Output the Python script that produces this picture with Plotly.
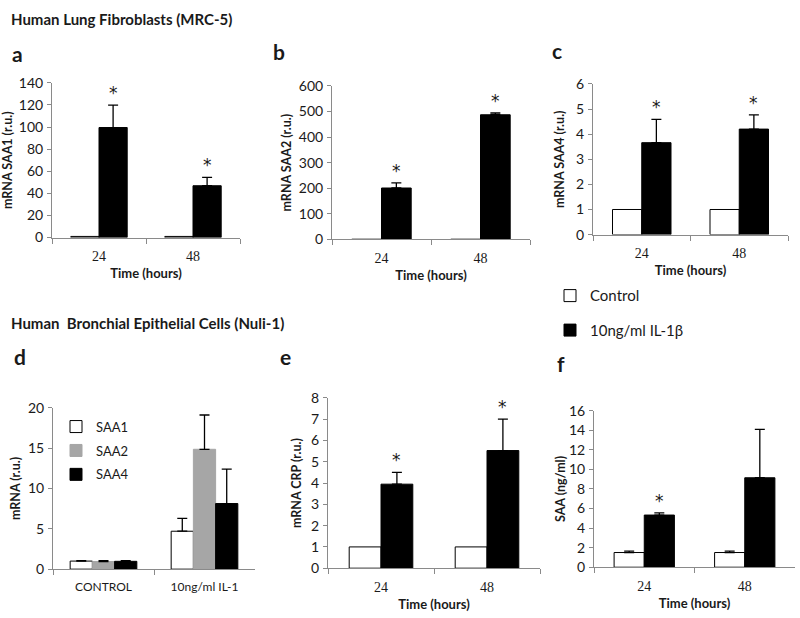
import plotly.graph_objects as go

# ---------------- data ----------------
TIME = ["24", "48"]

# a: mRNA SAA1 (MRC-5)
A_CTRL = [1.0, 1.0]
A_IL = [99.6, 46.9]
A_IL_ERR = [20.2, 7.6]
A_SIG = [True, True]

# b: mRNA SAA2 (MRC-5)
B_CTRL = [1.0, 1.0]
B_IL = [201.0, 487.0]
B_IL_ERR = [20.0, 7.0]
B_SIG = [True, True]

# c: mRNA SAA4 (MRC-5)
C_CTRL = [1.0, 1.0]
C_IL = [3.66, 4.2]
C_IL_ERR = [0.93, 0.57]
C_SIG = [True, True]

# d: Nuli-1 mRNA
D_GROUPS = ["CONTROL", "10ng/ml IL-1"]
D_SAA1 = [1.0, 4.7]
D_SAA1_ERR = [0.05, 1.6]
D_SAA2 = [0.95, 14.85]
D_SAA2_ERR = [0.1, 4.25]
D_SAA4 = [0.97, 8.13]
D_SAA4_ERR = [0.08, 4.27]

# e: mRNA CRP (Nuli-1)
E_CTRL = [1.0, 1.0]
E_IL = [3.95, 5.53]
E_IL_ERR = [0.55, 1.48]
E_SIG = [True, True]

# f: SAA protein (ng/ml)
F_CTRL = [1.5, 1.5]
F_CTRL_ERR = [0.15, 0.15]
F_IL = [5.33, 9.14]
F_IL_ERR = [0.22, 4.94]
F_SIG = [True, False]

# ---------------- style ----------------
W, H = 800, 618
SANS = "Lato, 'Open Sans', sans-serif"
SERIF = "'Liberation Serif', 'DejaVu Serif', serif"
AX_COL = "#8a8a8a"
TXT = "#1a1a1a"
BW = 0.3          # bar width (category units) for 2-bar panels
BW3 = 0.22        # bar width for 3-bar panel


def px_dom(a, b, total):
    return [a / total, b / total]


def py_dom(top, bottom):
    return [1 - bottom / H, 1 - top / H]


panels = [
    # axis id, x px range, y px range (top,bottom), ymax, dtick, ytitle, standoff, xtitle
    ("", (52, 240), (76, 235), 140, 20, "mRNA SAA1 (r.u.)", 8, "Time (hours)"),
    ("2", (332, 530), (79, 237), 600, 100, "mRNA SAA2 (r.u.)", 4, "Time (hours)"),
    ("3", (593, 788), (77, 232), 6, 1, "mRNA SAA4 (r.u.)", 8, "Time (hours)"),
    ("4", (53, 255), (410, 576), 20, 5, "mRNA (r.u.)", 4, None),
    ("5", (328, 540), (400, 575), 8, 1, "mRNA CRP (r.u.)", 6, "Time (hours)"),
    ("6", (594, 795), (413, 574), 16, 2, "SAA (ng/ml)", 0, "Time (hours)"),
]

fig = go.Figure()
layout = dict(
    width=W, height=H,
    margin=dict(l=0, r=0, t=0, b=0),
    paper_bgcolor="white", plot_bgcolor="white",
    barmode="overlay",
    font=dict(family=SANS, color=TXT),
)

for aid, (x0, x1), (yt, yb), ymax, dt, ytitle, so, xtitle in panels:
    xa = "xaxis" + aid
    ya = "yaxis" + aid
    layout[xa] = dict(
        domain=px_dom(x0, x1, W), anchor="y" + aid, type="category",
        range=[-0.5, 1.5], showline=True, linecolor=AX_COL, linewidth=1,
        ticks="outside", tickson="boundaries", ticklen=5, tickcolor=AX_COL,
        ticklabelstandoff=6,
        showgrid=False, zeroline=False,
        tickfont=dict(family=SERIF if aid != "4" else SANS,
                      size=14 if aid != "4" else 12, color=TXT),
        title=dict(text=f"<b>{xtitle}</b>" if xtitle else "",
                   font=dict(family=SANS, size=13, color=TXT), standoff=5),
    )
    layout[ya] = dict(
        domain=py_dom(yt, yb), anchor="x" + aid,
        range=[0, ymax], dtick=dt, tick0=0,
        showline=True, linecolor=AX_COL, linewidth=1,
        ticks="outside", ticklen=4, tickcolor=AX_COL,
        ticklabelstandoff=1,
        showgrid=False, zeroline=False,
        tickfont=dict(family=SANS, size=14, color=TXT),
        title=dict(text=f"<b>{ytitle}</b>",
                   font=dict(family=SANS, size=12.5, color=TXT), standoff=so),
    )


def err(arr):
    return dict(type="data", array=arr, arrayminus=[0] * len(arr),
                symmetric=False, color="black", thickness=1.3, width=5)


two_bar = [
    ("", A_CTRL, None, A_IL, A_IL_ERR, A_SIG),
    ("2", B_CTRL, None, B_IL, B_IL_ERR, B_SIG),
    ("3", C_CTRL, None, C_IL, C_IL_ERR, C_SIG),
    ("5", E_CTRL, None, E_IL, E_IL_ERR, E_SIG),
    ("6", F_CTRL, F_CTRL_ERR, F_IL, F_IL_ERR, F_SIG),
]

annotations = []
for i, (aid, ctrl, ctrl_err, il, il_err, sig) in enumerate(two_bar):
    first = i == 0
    fig.add_trace(go.Bar(
        x=TIME, y=ctrl, width=[BW] * 2, offset=-BW,
        marker=dict(color="white", line=dict(color="black", width=1)),
        error_y=err(ctrl_err) if ctrl_err else None,
        name="Control", legendgroup="ctrl", legend="legend", showlegend=first,
        xaxis="x" + aid, yaxis="y" + aid,
    ))
    fig.add_trace(go.Bar(
        x=TIME, y=il, width=[BW] * 2, offset=0,
        marker=dict(color="black", line=dict(color="black", width=1)),
        error_y=err(il_err),
        name="10ng/ml IL-1β", legendgroup="il", legend="legend", showlegend=first,
        xaxis="x" + aid, yaxis="y" + aid,
    ))
    for k, s in enumerate(sig):
        if s:
            annotations.append(dict(
                x=k + BW / 2, y=il[k] + il_err[k], xref="x" + aid, yref="y" + aid,
                text="*", showarrow=False, yanchor="bottom", yshift=0,
                font=dict(family="DejaVu Sans", size=17, color=TXT),
            ))

# panel d
for name, vals, errs, col, lcol, off in [
    ("SAA1", D_SAA1, D_SAA1_ERR, "white", "black", -1.5 * BW3),
    ("SAA2", D_SAA2, D_SAA2_ERR, "#a6a6a6", "#a6a6a6", -0.5 * BW3),
    ("SAA4", D_SAA4, D_SAA4_ERR, "black", "black", 0.5 * BW3),
]:
    fig.add_trace(go.Bar(
        x=D_GROUPS, y=vals, width=[BW3] * 2, offset=off,
        marker=dict(color=col, line=dict(color=lcol, width=1)),
        error_y=err(errs),
        name=name, legendgroup=name, legend="legend2",
        xaxis="x4", yaxis="y4",
    ))


# section titles and panel letters
def label(text, x, y, size, bold=True):
    annotations.append(dict(
        x=x / W, y=1 - y / H, xref="paper", yref="paper", xanchor="left", yanchor="middle",
        text=f"<b>{text}</b>" if bold else text, showarrow=False,
        font=dict(family=SANS, size=size, color=TXT),
    ))


label("Human Lung Fibroblasts (MRC-5)", 9, 10, 15)
label("Human\u00a0 Bronchial Epithelial Cells (Nuli-1)", 9, 323, 15)
label("a", 10, 46, 21)
label("b", 271, 44, 21)
label("c", 550, 43, 21)
label("d", 12, 357, 21)
label("e", 278, 357, 21)
label("f", 555, 365, 21)

layout["annotations"] = annotations
layout["legend"] = dict(
    x=550 / W, y=1 - 278 / H, xanchor="left", yanchor="top",
    font=dict(family=SANS, size=15, color=TXT), traceorder="grouped",
    tracegroupgap=12, bgcolor="rgba(0,0,0,0)", borderwidth=0,
)
layout["legend2"] = dict(
    x=56 / W, y=1 - 414 / H, xanchor="left", yanchor="top",
    font=dict(family=SANS, size=13, color=TXT), traceorder="grouped",
    tracegroupgap=4, bgcolor="rgba(0,0,0,0)", borderwidth=0,
)
fig.update_layout(**layout)
fig.write_html(
    "out.html",
    config={"displayModeBar": False},
    post_script="document.body.style.margin='0px';document.body.style.overflow='hidden';",
)
